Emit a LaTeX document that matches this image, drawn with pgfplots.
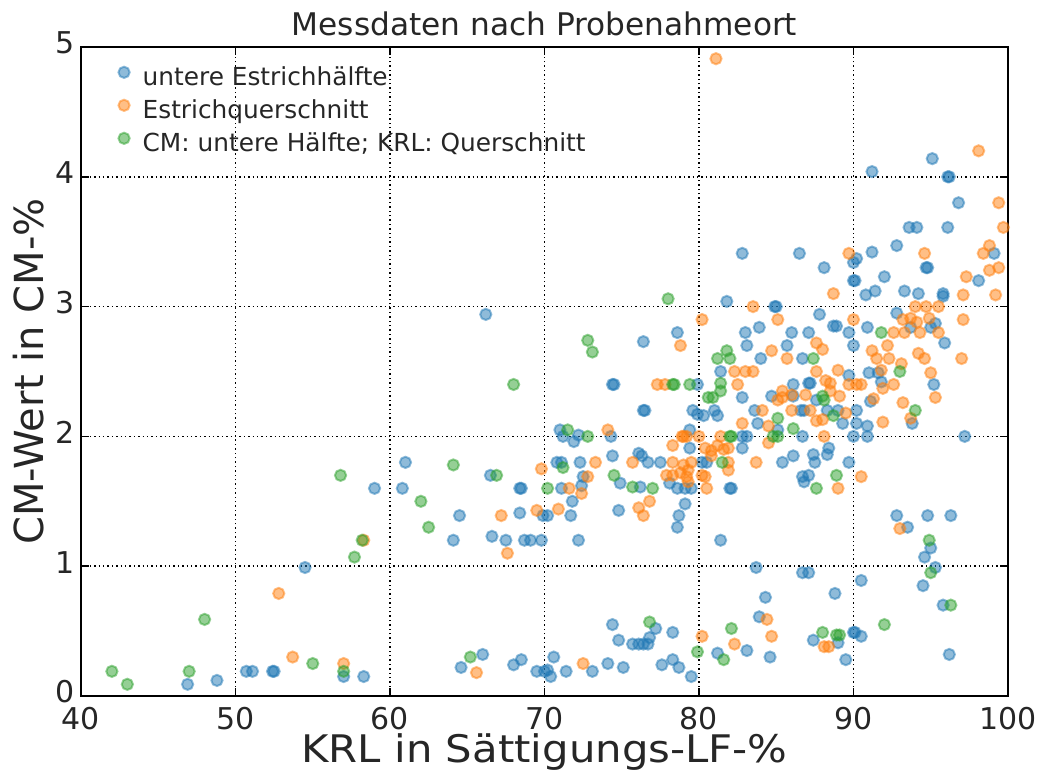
\documentclass[border=0pt]{standalone}
\usepackage{fontspec}
\setmainfont{DejaVu Sans}
\usepackage{pgfplots}
\pgfplotsset{compat=1.18}
\definecolor{mblue}{HTML}{1F77B4}
\definecolor{morange}{HTML}{FF7F0E}
\definecolor{mgreen}{HTML}{2CA02C}
\definecolor{txt}{HTML}{262626}
\begin{document}
\begin{tikzpicture}
\begin{axis}[
 scale only axis, width=463.5pt, height=324.5pt,
 xmin=40, xmax=100, ymin=0, ymax=5,
 xtick={40,50,...,100}, ytick={0,1,...,5},
 grid=major,
 grid style={black, line width=0.7pt, dash pattern=on 0.7pt off 1.5pt},
 axis line style={black, line width=1pt},
 tick align=inside, major tick length=4pt, tick style={black, line width=0.8pt},
 /pgf/number format/assume math mode=true,
 tick label style={font=\fontsize{15}{17}\selectfont, text=txt, inner sep=0.5pt},
 xticklabel style={yshift=-5pt},
 yticklabel style={xshift=-2.5pt, yshift=2pt},
 title={Messdaten nach Probenahmeort},
 every axis title/.style={at={(rel axis cs:0.5,1.0355)}, anchor=center, font=\fontsize{15.6}{18}\selectfont, text=txt},
 xlabel={\scalebox{1.1}[1]{KRL in Sättigungs-LF-\%}},
 ylabel={CM-Wert in CM-\%},
 every axis x label/.style={at={(rel axis cs:0.5,-0.087)}, anchor=center, font=\fontsize{19}{21}\selectfont, text=txt, inner sep=0pt},
 every axis y label/.style={at={(rel axis cs:-0.056,0.5)}, rotate=90, anchor=center, font=\fontsize{20}{23}\selectfont, text=txt, inner sep=1pt},
 legend image code/.code={\draw[#1] plot coordinates {(0pt,3.4pt)};},
 legend style={draw=none, fill=none, font=\fontsize{12.4}{15}\selectfont, text=txt,
   anchor=north west, at={(rel axis cs:0.040,0.9735)}, inner sep=0pt,
   row sep=2pt, column sep=5.5pt, nodes={inner sep=1pt, text height=9.5pt, text depth=3pt}},
 legend cell align=left,
 mystyle/.style={only marks, mark=*, mark size=2.8pt, mark options={fill=#1, draw=#1, fill opacity=0.5, draw opacity=0.5, line width=1pt}},
]
\addplot[mystyle=mblue] coordinates {
(46.9,0.09)(48.8,0.12)(50.7,0.19)(51.1,0.19)(52.4,0.19)(52.5,0.19)(54.5,0.99)(57.0,0.15)(58.3,0.15)(59.0,1.60)(60.8,1.60)(61.0,1.80)(64.5,1.39)(64.1,1.20)(66.2,2.94)(66.5,1.70)(68.4,1.41)(66.6,1.23)(67.5,1.20)(68.7,1.20)(69.1,1.20)(69.8,1.20)(68.4,1.60)(68.5,1.60)(69.9,1.39)(66.0,0.32)(64.6,0.22)(68.0,0.24)(68.5,0.28)(69.5,0.19)(70.0,0.19)
(81.8,3.04)(84.9,3.0)(78.6,2.80)(76.4,2.73)(83.0,2.80)(83.9,2.84)(83.1,2.70)(84.0,2.60)(81.4,2.50)(74.4,2.40)(74.5,2.40)(79.9,2.40)(82.8,2.30)(84.7,2.31)(76.4,2.20)(76.5,2.20)(79.6,2.20)(79.9,2.17)(80.3,2.16)(81.0,2.20)(81.2,2.16)(83.6,2.20)(83.8,2.10)(71.0,2.05)(71.2,2.0)(71.9,1.96)(72.2,2.01)(74.3,2.0)(79.4,2.05)(79.4,1.91)(82.8,2.0)(83.1,2.0)(82.8,1.91)(76.1,1.87)(76.3,1.85)(76.7,1.80)(74.4,1.85)(77.5,1.80)(80.2,1.80)(80.5,1.80)(70.8,1.80)(71.1,1.80)(72.3,1.80)(72.5,1.69)
(71.1,1.6)(72.4,1.62)(74.9,1.64)(76.2,1.61)(78.1,1.64)(78.6,1.6)(79.1,1.6)(79.5,1.6)(82.0,1.6)(82.1,1.6)(71.8,1.50)(71.7,1.39)(70.2,1.39)(74.8,1.43)(79.1,1.48)(78.7,1.39)(78.6,1.30)(72.2,1.20)(81.4,1.2)(83.7,0.99)(84.3,0.76)(83.9,0.61)(84.6,0.30)(83.1,0.35)(81.2,0.33)(74.4,0.55)(74.8,0.43)(75.7,0.40)(76.1,0.40)(76.4,0.40)(76.7,0.40)(77.2,0.52)(76.8,0.45)(78.3,0.49)(77.6,0.24)(78.3,0.28)(78.7,0.22)(79.5,0.15)(74.1,0.25)(75.1,0.22)(73.1,0.19)(70.6,0.30)(70.2,0.20)(70.4,0.15)(71.4,0.19)
(88.1,3.30)(90.0,3.20)(90.1,3.20)(90.0,3.34)(92.0,3.23)(94.7,3.30)(94.8,3.30)(98.1,3.20)(95.8,3.1)(95.8,3.08)(94.2,3.10)(93.3,3.12)(90.8,3.09)(91.4,3.12)(85.0,3.0)(92.8,2.95)(87.8,2.94)(95.3,2.87)(93.7,2.84)(95.0,2.84)(95.9,2.72)(86.0,2.80)(87.1,2.80)(88.7,2.85)(88.9,2.85)(89.7,2.80)(90.9,2.84)(90.0,2.70)(85.7,2.70)(95.2,2.40)(86.7,2.60)(91.0,2.49)(91.6,2.49)(89.7,2.47)(87.1,2.41)(87.2,2.41)(86.1,2.40)(91.8,2.42)(91.1,2.27)(86.1,2.31)(87.6,2.28)(86.6,2.20)(86.8,2.20)(88.3,2.2)(89.0,2.2)(90.2,2.2)(89.3,2.10)(90.2,2.1)(90.9,2.08)(93.8,2.10)(97.2,2.0)(90.0,2.0)(90.9,2.0)(86.7,2.0)(85.1,2.05)(86.1,1.85)(85.4,1.8)(87.4,1.86)(87.5,1.8)(88.3,1.86)(88.4,1.91)(89.7,1.8)(86.7,1.69)(87.1,1.70)
(86.8,1.65)(92.8,1.39)(94.8,1.39)(96.3,1.39)(93.5,1.30)(95.0,1.14)(94.6,1.07)(95.3,0.99)(94.5,0.85)(86.7,0.95)(87.1,0.95)(90.5,0.89)(88.8,0.79)(95.8,0.70)(90.0,0.49)(90.1,0.49)(90.5,0.46)(87.4,0.43)(89.0,0.41)(89.5,0.28)(96.2,0.32)
(95.1,4.14)(91.2,4.04)(96.1,4.0)(96.2,4.0)(96.8,3.80)(93.6,3.61)(94.1,3.61)(96.1,3.61)(86.5,3.41)(91.2,3.42)(92.8,3.47)(99.1,3.41)(90.2,3.37)(82.8,3.41)
};
\addlegendentry{untere Estrichhälfte}
\addplot[mystyle=morange] coordinates {
(52.8,0.79)(53.7,0.30)(57.0,0.25)(58.3,1.20)(67.2,1.39)(69.5,1.43)(67.6,1.10)(65.6,0.18)(69.8,1.75)
(83.5,3.0)(80.2,2.90)(78.8,2.70)(84.7,2.66)(82.3,2.50)(83.0,2.50)(83.5,2.50)(82.5,2.40)(77.3,2.40)(77.8,2.40)(84.1,2.2)(82.8,2.10)(84.5,2.08)(74.1,2.05)(78.9,2.0)(79.2,2.0)(79.0,2.0)(80.0,2.0)(78.3,1.93)(81.4,2.0)(84.5,1.95)(80.4,1.91)(80.8,1.89)(81.2,1.93)(81.6,1.9)(81.9,1.91)(80.8,1.85)(75.7,1.80)(78.3,1.80)(79.0,1.78)(79.3,1.74)(79.5,1.80)(78.8,1.72)(79.2,1.69)(80.2,1.70)(81.9,1.80)(81.9,1.74)(83.7,1.8)(73.3,1.8)(72.8,1.69)(77.9,1.70)(78.3,1.70)(80.4,1.69)
(71.6,1.6)(72.4,1.56)(79.3,1.65)(80.5,1.6)(70.9,1.44)(76.1,1.45)(76.8,1.50)(76.4,1.39)(84.4,0.59)(84.7,0.46)(82.3,0.40)(80.2,0.46)(72.5,0.25)
(97.3,3.23)(98.8,3.28)(99.4,3.30)(99.2,3.09)(97.1,3.09)(88.7,3.10)(94.0,3.0)(94.7,3.0)(95.5,3.0)(90.0,2.90)(85.1,2.9)(93.2,2.9)(93.7,2.91)(94.9,2.91)(94.1,2.88)(97.1,2.9)(92.6,2.80)(93.3,2.80)(94.3,2.80)(95.5,2.80)(92.2,2.70)(87.6,2.72)(88.0,2.67)(97.0,2.60)(94.2,2.64)(94.6,2.60)(91.2,2.66)(92.3,2.6)(93.1,2.56)(95.0,2.49)(95.3,2.30)(85.7,2.6)(91.5,2.60)(91.8,2.51)(89.0,2.51)(87.6,2.5)(88.2,2.43)(88.5,2.41)(89.7,2.40)(90.2,2.40)(90.5,2.40)(92.6,2.40)(91.9,2.37)(91.3,2.29)(93.2,2.26)(85.4,2.35)(85.4,2.30)(86.0,2.32)(86.9,2.32)(88.5,2.35)(89.1,2.31)(86.0,2.2)(87.2,2.2)(87.6,2.12)(88.0,2.13)(89.5,2.18)(91.9,2.11)(93.7,2.14)(88.1,2.0)(85.1,2.28)(90.5,1.69)
(89.0,1.60)(93.0,1.29)(88.1,0.38)(88.4,0.38)
(98.1,4.20)(99.4,3.80)(99.7,3.61)(89.7,3.41)(94.6,3.41)(98.8,3.47)(98.4,3.41)
(81.1,4.91)
};
\addlegendentry{Estrichquerschnitt}
\addplot[mystyle=mgreen] coordinates {
(42.0,0.19)(43.0,0.09)(47.0,0.19)(48.0,0.59)(55.0,0.25)(57.0,0.19)(58.2,1.20)(57.7,1.07)(56.8,1.70)(62.0,1.50)(62.5,1.30)(65.2,0.30)(68.0,2.40)(64.1,1.78)(66.9,1.70)
(78.0,3.06)(72.8,2.74)(73.1,2.65)(81.8,2.66)(81.2,2.60)(82.0,2.60)(78.3,2.40)(78.4,2.40)(79.4,2.4)(81.4,2.41)(81.4,2.35)(80.6,2.30)(80.9,2.30)(71.5,2.05)(72.8,2.0)(82.0,2.0)(82.1,2.0)(84.8,2.0)(81.5,1.80)(71.2,1.76)(74.5,1.70)
(70.2,1.60)(75.7,1.61)(77.0,1.60)(82.1,0.52)(79.9,0.34)(81.6,0.28)(76.8,0.57)
(91.8,2.80)(93.0,2.50)(87.4,2.60)(88.0,2.31)(88.1,2.28)(88.7,2.16)(94.0,2.20)(86.1,2.06)(85.1,2.0)(85.1,2.14)(88.9,1.70)
(87.6,1.60)(94.9,1.20)(95.0,0.95)(96.3,0.70)(92.0,0.55)(88.0,0.49)(88.9,0.47)(89.1,0.47)
};
\addlegendentry{CM: untere Hälfte; KRL: Querschnitt}
\end{axis}
\pgfresetboundingbox
\path (current axis.south west) ++(-40.5pt,-40pt) rectangle ++(520.5pt,388pt);
\end{tikzpicture}
\end{document}
